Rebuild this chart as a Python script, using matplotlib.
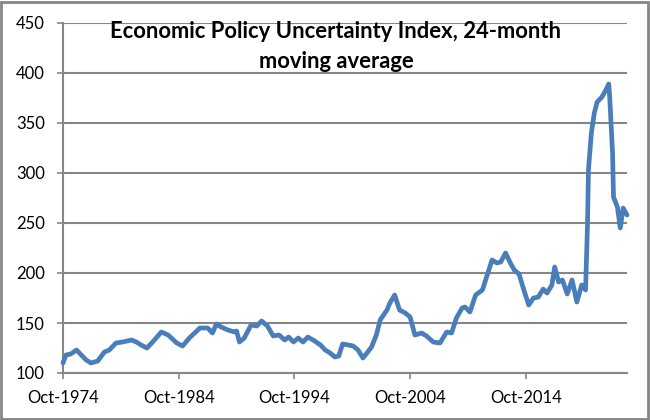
import matplotlib
matplotlib.use("Agg")
import matplotlib.pyplot as plt
from matplotlib.patches import Rectangle
import pandas as pd

dates = [
    "1974-10", "1975-01", "1975-06", "1975-12", "1976-05", "1976-10", "1977-03", "1977-10",
    "1978-05", "1978-10", "1979-05", "1979-12", "1980-09", "1981-02", "1981-07", "1982-01",
    "1982-07", "1983-04", "1983-11", "1984-08", "1985-02", "1985-09", "1986-08", "1987-04",
    "1987-09", "1988-01", "1988-06", "1989-01", "1989-08", "1989-10", "1990-01", "1990-06",
    "1991-01", "1991-07", "1991-12", "1992-06", "1992-12", "1993-06", "1993-12", "1994-04",
    "1994-09", "1995-02", "1995-07", "1995-12", "1996-07", "1997-01", "1997-06", "1997-11",
    "1998-04", "1998-08", "1998-12", "1999-06", "1999-11", "2000-04", "2000-09", "2001-02",
    "2001-06", "2001-11", "2002-03", "2002-10", "2003-01", "2003-06", "2003-11", "2004-05",
    "2004-10", "2005-03", "2005-10", "2006-03", "2006-10", "2007-05", "2007-12", "2008-05",
    "2008-10", "2009-04", "2009-07", "2009-12", "2010-06", "2011-01", "2011-06", "2011-11",
    "2012-04", "2012-08", "2013-01", "2013-06", "2013-10", "2014-03", "2014-08", "2015-01",
    "2015-06", "2015-11", "2016-04", "2016-08", "2017-01", "2017-04", "2017-08", "2017-12",
    "2018-05", "2018-10", "2019-03", "2019-08", "2019-12", "2020-02", "2020-03", "2020-06",
    "2020-09", "2020-12", "2021-05", "2021-09", "2021-12", "2022-01", "2022-04", "2022-05",
    "2022-09", "2022-12", "2023-03", "2023-07",
]
values = [
    110, 118, 119, 123, 118, 113, 110, 112,
    121, 123, 130, 131, 133, 131, 128, 125,
    131, 141, 138, 130, 127, 135, 145, 145,
    140, 149, 146, 143, 141, 142, 131, 135,
    148, 147, 152, 147, 137, 138, 133, 136,
    131, 135, 131, 136, 132, 128, 123, 120,
    116, 117, 129, 128, 127, 123, 115, 121,
    126, 138, 153, 163, 170, 178, 163, 160,
    156, 138, 140, 137, 131, 130, 141, 140,
    155, 165, 166, 161, 178, 183, 198, 213,
    210, 211, 220, 210, 203, 199, 183, 168,
    175, 176, 184, 180, 188, 206, 191, 193,
    179, 193, 171, 188, 183, 250, 303, 340,
    360, 371, 376, 383, 389, 376, 320, 276,
    266, 245, 265, 258,
]
tick_dates = ["1974-10", "1984-10", "1994-10", "2004-10", "2014-10"]
tick_labels = ["Oct-1974", "Oct-1984", "Oct-1994", "Oct-2004", "Oct-2014"]
y_ticks = [100, 150, 200, 250, 300, 350, 400, 450]
title = "Economic Policy Uncertainty Index, 24-month\nmoving average"

x = pd.to_datetime(dates, format="%Y-%m")
xt = pd.to_datetime(tick_dates, format="%Y-%m")

plt.rcParams["font.family"] = ["Lato", "DejaVu Sans"]
grey = "#868686"

fig = plt.figure(figsize=(6.5, 4.2), dpi=100)
ax = fig.add_axes([63 / 650, 1 - 373 / 420, (627 - 63) / 650, (373 - 23) / 420])

ax.plot(x, values, color="#4A7EBB", linewidth=3.4, solid_joinstyle="round", solid_capstyle="round",
        clip_on=False, zorder=3)

ax.set_ylim(100, 450)
ax.set_yticks(y_ticks)
ax.set_xlim(x[0], x[-1])
ax.set_xticks(xt)
ax.set_xticklabels(tick_labels)

ax.yaxis.grid(True, color=grey, linewidth=1.5)
ax.set_axisbelow(True)
for s in ["top", "right"]:
    ax.spines[s].set_visible(False)
for s in ["left", "bottom"]:
    ax.spines[s].set_color(grey)
    ax.spines[s].set_linewidth(1.5)

ax.tick_params(axis="both", colors=grey, labelcolor="black", labelsize=12, width=1.2, length=4)
ax.tick_params(axis="y", pad=9)
ax.tick_params(axis="x", pad=8)

fig.text(336 / 650, 1 - 21 / 420, title, ha="center", va="top", fontsize=15.8,
         fontweight="bold", linespacing=1.5)

fig.patches.append(Rectangle((0.002, 0.003), 0.995, 0.993, transform=fig.transFigure,
                             fill=False, edgecolor=grey, linewidth=2.0))

fig.savefig("out.png", dpi=100, facecolor="white")
